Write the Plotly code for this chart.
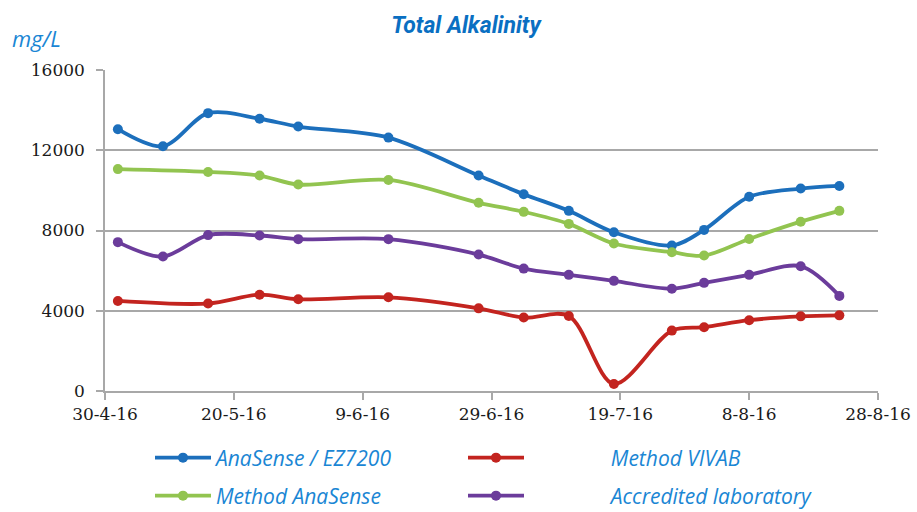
import plotly.graph_objects as go

# ---------------- data ----------------
dates_all = ["2016-05-02", "2016-05-09", "2016-05-16", "2016-05-24", "2016-05-30",
             "2016-06-13", "2016-06-27", "2016-07-04", "2016-07-11", "2016-07-18",
             "2016-07-27", "2016-08-01", "2016-08-08", "2016-08-16", "2016-08-22"]
dates_no_may9 = ["2016-05-02", "2016-05-16", "2016-05-24", "2016-05-30",
                 "2016-06-13", "2016-06-27", "2016-07-04", "2016-07-11", "2016-07-18",
                 "2016-07-27", "2016-08-01", "2016-08-08", "2016-08-16", "2016-08-22"]

anasense_ez7200 = [13050, 12200, 13850, 13570, 13180, 12630, 10740, 9810, 8980,
                   7910, 7250, 8030, 9680, 10090, 10220]
method_anasense = [11060, 10920, 10740, 10290, 10520, 9380, 8930, 8330,
                   7350, 6920, 6750, 7580, 8440, 8980]
method_vivab = [4490, 4360, 4800, 4570, 4670, 4120, 3660, 3740,
                350, 3010, 3180, 3530, 3720, 3770]
accredited_lab = [7420, 6700, 7770, 7750, 7570, 7570, 6800, 6100, 5790,
                  5490, 5100, 5390, 5790, 6220, 4740]

tick_dates = ["2016-04-30", "2016-05-20", "2016-06-09", "2016-06-29",
              "2016-07-19", "2016-08-08", "2016-08-28"]
tick_labels = ["30-4-16", "20-5-16", "9-6-16", "29-6-16", "19-7-16", "8-8-16", "28-8-16"]
y_ticks = [0, 4000, 8000, 12000, 16000]
y_tick_labels = ["0", "4000", "8000", "12000", "16000"]

title_text = "Total Alkalinity"
unit_text = "mg/L"

# ---------------- style ----------------
BLUE = "#1c6fbc"
GREEN = "#92c450"
RED = "#c3241f"
PURPLE = "#6b3c9b"
TEXT_BLUE = "#1a86d4"
TITLE_BLUE = "#0a6fc2"
GRID = "#a8a8a8"

fig = go.Figure()

def add(name, x, y, color, legend):
    fig.add_trace(go.Scatter(
        x=x, y=y, name=name, mode="lines+markers",
        line=dict(color=color, width=3.8, shape="spline", smoothing=0.9),
        marker=dict(color=color, size=10),
        legend=legend,
    ))

pad = "&nbsp;" * 15
add("AnaSense / EZ7200", dates_all, anasense_ez7200, BLUE, "legend")
add(pad + "Method VIVAB", dates_no_may9, method_vivab, RED, "legend2")
add("Method AnaSense", dates_no_may9, method_anasense, GREEN, "legend3")
add(pad + "Accredited laboratory", dates_all, accredited_lab, PURPLE, "legend4")

leg_common = dict(
    orientation="h", xref="container", yref="container",
    xanchor="left", yanchor="middle",
    font=dict(family="Open Sans", size=21, color=TEXT_BLUE, style="italic"),
    itemwidth=56, bgcolor="rgba(0,0,0,0)",
)

col1_x, col2_x = 150 / 917, 463 / 917
row1_y, row2_y = 1 - 458 / 512, 1 - 496 / 512

fig.update_layout(
    width=917, height=512,
    margin=dict(l=105, r=39, t=70, b=121, autoexpand=False),
    paper_bgcolor="white", plot_bgcolor="white",
    showlegend=True,
    legend=dict(x=col1_x, y=row1_y, **leg_common),
    legend2=dict(x=col2_x, y=row1_y, **leg_common),
    legend3=dict(x=col1_x, y=row2_y, **leg_common),
    legend4=dict(x=col2_x, y=row2_y, **leg_common),
    title=dict(
        text="<b><i>" + title_text + "</i></b>",
        x=466 / 917, xref="container", xanchor="center",
        y=1 - 25 / 512, yref="container", yanchor="middle",
        font=dict(family="Roboto", size=23, color=TITLE_BLUE),
    ),
    xaxis=dict(
        type="date", range=[tick_dates[0], tick_dates[-1]],
        tickvals=tick_dates, ticktext=tick_labels,
        showgrid=False, showline=True, linecolor=GRID, linewidth=1.5,
        ticks="outside", ticklen=7, tickcolor=GRID, tickwidth=1.5,
        tickfont=dict(family="DejaVu Serif", size=17, color="#1a1a1a"),
        zeroline=False,
    ),
    yaxis=dict(
        range=[0, 16000], tickvals=y_ticks, ticktext=y_tick_labels,
        showgrid=True, gridcolor=GRID, gridwidth=1.5,
        showline=True, linecolor=GRID, linewidth=1.5,
        ticks="outside", ticklen=7, tickcolor=GRID, tickwidth=1.5,
        tickfont=dict(family="DejaVu Serif", size=17, color="#1a1a1a"),
        ticklabelstandoff=8,
        zeroline=False,
    ),
    annotations=[dict(
        text="<i>" + unit_text + "</i>", xref="paper", yref="paper",
        x=(10 - 105) / 773, y=(391 - 38) / 321, xanchor="left", yanchor="middle",
        showarrow=False,
        font=dict(family="Open Sans", size=22, color=TEXT_BLUE),
    )],
)

fig.write_html("out.html", config={"displayModeBar": False},
               post_script="document.body.style.margin='0';")
